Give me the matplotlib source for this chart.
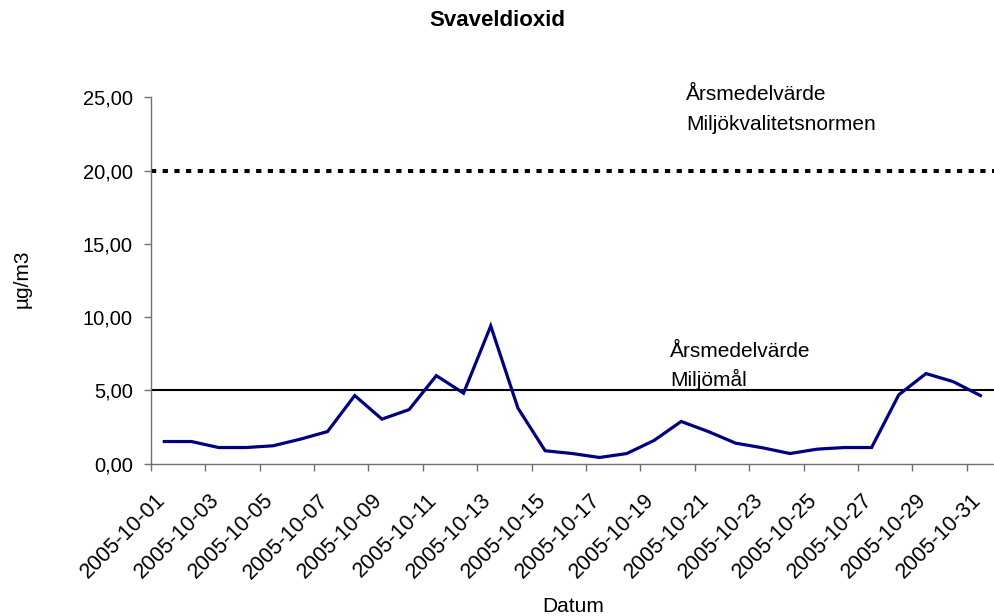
import matplotlib
matplotlib.use("Agg")
import matplotlib.pyplot as plt
import matplotlib.transforms as mtransforms
from matplotlib.ticker import FuncFormatter

plt.rcParams['font.family'] = ['Liberation Sans', 'DejaVu Sans']

# daily SO2 values, oktober 2005
dates = ["2005-10-%02d" % d for d in range(1, 32)]
values = [1.50, 1.50, 1.09, 1.09, 1.21, 1.66, 2.18, 4.64, 3.03, 3.68,
          6.00, 4.80, 9.39, 3.78, 0.87, 0.68, 0.41, 0.68, 1.57, 2.87,
          2.18, 1.39, 1.07, 0.68, 0.98, 1.09, 1.09, 4.69, 6.14, 5.59,
          4.64]
norm_level = 20.0   # Miljökvalitetsnormen
goal_level = 5.0    # Miljömål
y_ticks = [0, 5, 10, 15, 20, 25]

fig = plt.figure(figsize=(9.95, 6.16), dpi=100)
ax = fig.add_axes([150.7 / 995, 152.5 / 616, (994 - 150.7) / 995, (518.7 - 152.5) / 616])

x = list(range(len(values)))
ax.plot(x, values, color='#000080', lw=2.3, solid_joinstyle='miter', zorder=3)
ax.axhline(norm_level, color='black', lw=2.9, linestyle=(0, (1.3, 1.6)), zorder=2)
ax.axhline(goal_level, color='black', lw=1.5, zorder=2)

ax.set_xlim(-0.5, len(values) - 0.5)
ax.set_ylim(0, 25)

for s in ['top', 'right']:
    ax.spines[s].set_visible(False)
for s in ['left', 'bottom']:
    ax.spines[s].set_color('#707070')
    ax.spines[s].set_linewidth(1.0)

ax.set_yticks(y_ticks)
ax.yaxis.set_major_formatter(FuncFormatter(lambda v, p: ("%.2f" % v).replace('.', ',')))
ax.tick_params(axis='y', length=5, width=1, color='#707070', pad=8, labelsize=14.5)

ax.set_xticks(x[::2])
ax.set_xticklabels(dates[::2])
ax.set_xticks([i - 0.5 for i in x[::2]][:16], minor=True)
ax.tick_params(axis='x', which='major', length=0, pad=19, labelsize=15.5)
ax.tick_params(axis='x', which='minor', length=5, width=1, color='#707070')
offset = mtransforms.ScaledTranslation(-10 / 100, 0, fig.dpi_scale_trans)
for lbl in ax.get_xticklabels():
    lbl.set_rotation(45)
    lbl.set_ha('right')
    lbl.set_va('top')
    lbl.set_rotation_mode('anchor')
    lbl.set_transform(lbl.get_transform() + offset)

fig.text(497 / 995, 1 - 21 / 616, "Svaveldioxid", ha='center', va='center',
         fontsize=16, fontweight='bold')
fig.text(22 / 995, 1 - 279 / 616, "µg/m3", rotation=90, ha='center', va='center',
         fontsize=15)
fig.text(573 / 995, 1 - 606 / 616, "Datum", ha='center', va='center', fontsize=15)

ax.text(19.18, 24.83, "Årsmedelvärde", fontsize=15, va='baseline', ha='left')
ax.text(19.18, 22.78, "Miljökvalitetsnormen", fontsize=15, va='baseline', ha='left')
ax.text(18.59, 7.29, "Årsmedelvärde", fontsize=15, va='baseline', ha='left')
ax.text(18.59, 5.29, "Miljömål", fontsize=15, va='baseline', ha='left')

fig.savefig("out.png", dpi=100)
